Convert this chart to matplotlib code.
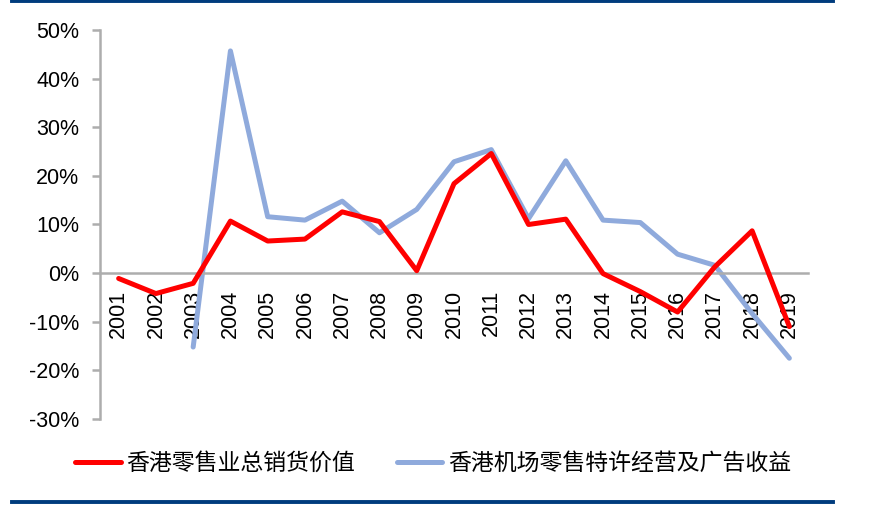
"""Hong Kong retail sales growth vs. airport retail concession revenue growth."""

import matplotlib
import matplotlib.pyplot as plt
import numpy as np
from matplotlib.lines import Line2D
from matplotlib.ticker import FuncFormatter

matplotlib.use("Agg")

plt.rcParams["font.family"] = ["Liberation Sans", "Noto Sans CJK SC", "DejaVu Sans"]

YEARS = [str(y) for y in range(2001, 2020)]

# 香港零售业总销货价值 (yoy, %)
RETAIL_SALES = [-1.1, -4.2, -2.1, 10.7, 6.6, 7.0, 12.6, 10.6, 0.5, 18.4,
                24.6, 10.0, 11.1, -0.1, -3.8, -8.0, 1.3, 8.7, -11.0]

# 香港机场零售特许经营及广告收益 (yoy, %), no data for 2001-2002
AIRPORT_REVENUE = [np.nan, np.nan, -15.2, 45.7, 11.6, 10.9, 14.8, 8.3, 13.1, 22.9,
                   25.4, 11.2, 23.1, 10.9, 10.4, 3.9, 1.6, -8.3, -17.5]

LABELS = ["香港零售业总销货价值", "香港机场零售特许经营及广告收益"]

RED = "#FF0000"
BLUE = "#8FAADC"
GRAY = "#ADADAD"
NAVY = "#003C7D"


def main() -> None:
    fig = plt.figure(figsize=(8.72, 5.05), dpi=100)
    ax = fig.add_axes([0.1147, 0.1703, 0.8119, 0.7703])

    # spines first: moving a spine resets the ticks
    for side in ("top", "right"):
        ax.spines[side].set_visible(False)
    ax.spines["bottom"].set_position(("data", 0))
    ax.spines["bottom"].set_color(GRAY)
    ax.spines["bottom"].set_linewidth(1.8)
    ax.spines["left"].set_color(GRAY)
    ax.spines["left"].set_linewidth(1.8)

    x = np.arange(len(YEARS))
    ax.plot(x, np.array(RETAIL_SALES) / 100, color=RED, linewidth=3.6,
            solid_capstyle="round", label=LABELS[0], zorder=3)
    ax.plot(x, np.array(AIRPORT_REVENUE) / 100, color=BLUE, linewidth=3.6,
            solid_capstyle="round", label=LABELS[1], zorder=2)

    ax.set_xlim(-0.5, len(YEARS) - 0.5)
    ax.set_ylim(-0.3, 0.5)
    ax.set_yticks(np.arange(-0.3, 0.51, 0.1))
    ax.yaxis.set_major_formatter(FuncFormatter(lambda v, _: f"{v * 100:.0f}%"))
    ax.set_xticks(x)
    ax.set_xticklabels(YEARS)

    ax.tick_params(axis="y", length=6, width=1.8, color=GRAY, pad=9,
                   labelsize=15.5)
    ax.tick_params(axis="x", length=0, pad=12, labelsize=15.5,
                   labelrotation=90)

    ax.legend(loc="center left", bbox_to_anchor=(0.086, 0.083),
              bbox_transform=fig.transFigure, ncol=2, frameon=False,
              fontsize=16.5, handlelength=2.0, handletextpad=0.25,
              columnspacing=1.8, borderpad=0, borderaxespad=0)

    # Dark blue rules at top and bottom of the figure
    for y0 in (1 - 1.3 / 505, 1 - 502 / 505):
        fig.add_artist(Line2D([12 / 872, 833 / 872], [y0, y0],
                              transform=fig.transFigure, color=NAVY,
                              linewidth=2.8))

    fig.savefig("out.png", dpi=100)
    plt.close(fig)


if __name__ == "__main__":
    main()
